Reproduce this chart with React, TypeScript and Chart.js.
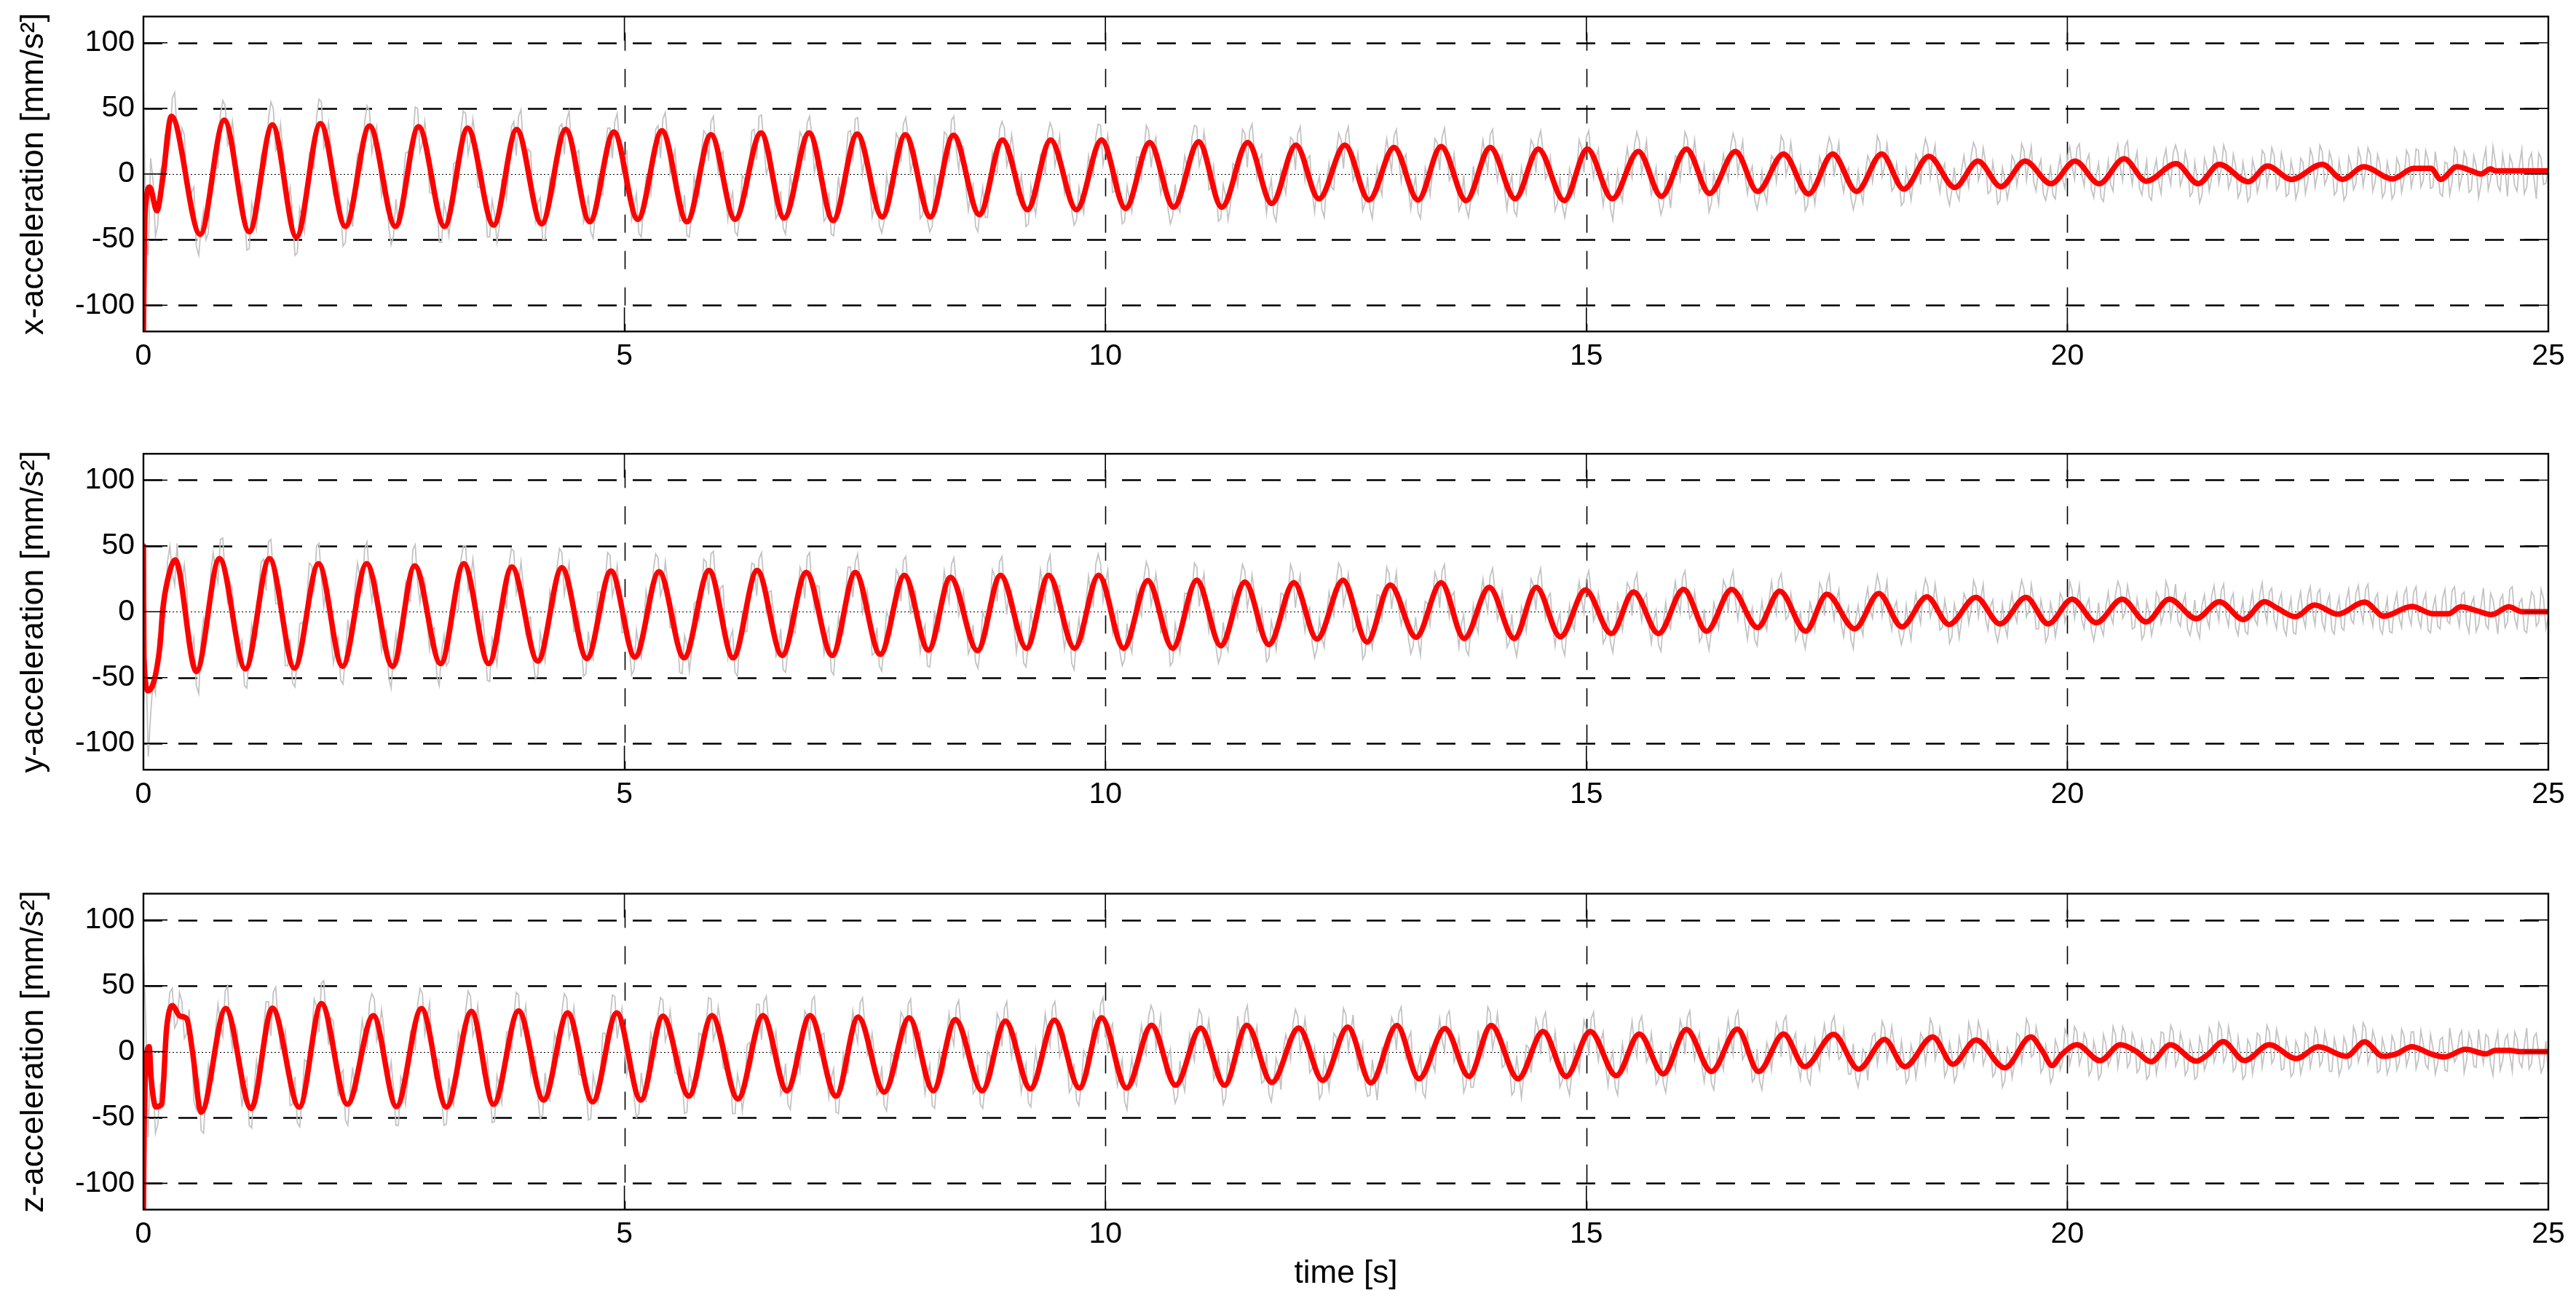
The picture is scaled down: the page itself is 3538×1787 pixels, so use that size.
import React, { useEffect, useRef } from 'react';
import { Chart, registerables } from 'chart.js';

Chart.register(...registerables);

// ---------- data ----------
const X_TICKS = [0, 5, 10, 15, 20, 25];
const Y_TICKS = [-100, -50, 0, 50, 100];
const Y_DASHED = [-100, -50, 50, 100];
const X_GRID = [5, 10, 15, 20];
const Y_LABELS = ['x-acceleration [mm/s²]', 'y-acceleration [mm/s²]', 'z-acceleration [mm/s²]'];
const X_LABEL = 'time [s]';
const GRAY_DT = 0.05; // raw samples at k*GRAY_DT, in-between samples at k*GRAY_DT + GRAY_DT/2

// filtered (red) signals: times [s] and values [mm/s^2]
const X_RED_T = [0, 0.01, 0.03, 0.065, 0.14, 0.2, 0.29, 0.59, 0.84, 1.10, 1.34, 1.59, 1.84, 2.10, 2.35, 2.62, 2.86, 3.13, 3.37, 3.64, 3.88, 4.14, 4.39, 4.64, 4.89, 5.14,
  5.39, 5.65, 5.90, 6.15, 6.42, 6.66, 6.92, 7.17, 7.42, 7.68, 7.92, 8.18, 8.42, 8.69, 8.93, 9.19, 9.43, 9.70, 9.96, 10.21, 10.46, 10.71, 10.97, 11.21, 11.48, 11.73, 11.98,
  12.22, 12.49, 12.74, 13.0, 13.25, 13.49, 13.75, 14.0, 14.26, 14.50, 14.77, 15.01, 15.27, 15.54, 15.78, 16.04, 16.28, 16.55, 16.78, 17.05, 17.31, 17.56, 17.81, 18.07, 18.30, 18.56, 18.83,
  19.07, 19.31, 19.56, 19.83, 20.08, 20.33, 20.59, 20.82, 21.13, 21.36, 21.58, 21.88, 22.08, 22.33, 22.65, 22.86, 23.08, 23.38, 23.6, 23.78, 23.88, 24.05, 24.2, 24.3, 24.4, 24.45, 25];
const X_RED_V = [-120, -50, -19, -10, -28, -4, 44, -46, 41, -44, 37.5, -48, 38.4, -40, 36.6, -40, 36, -40, 35, -39, 34, -38, 34, -36.4, 32, -34.6,
  33, -36.4, 30, -34.6, 31.4, -33.6, 31.4, -35.5, 30.5, -32.7, 30, -32.7, 29.6, -30.9, 25.9, -27.2, 25.9, -27.2, 25.9, -26.2, 24, -25.3, 24.6, -25.3, 24, -22.5, 22,
  -18.9, 22, -19.8, 20.3, -19.8, 20.9, -20.3, 20.3, -18.9, 19, -20.3, 19, -18.9, 17.2, -17, 19, -14.8, 17.2, -13.3, 15.3, -15.2, 15.3, -13.3, 15.3, -11.5, 13.5, -10.2,
  9.8, -9.6, 9.8, -7.4, 9.8, -7.4, 11.6, -5.5, 7.9, -7.4, 7.4, -5.9, 6.1, -4.1, 7.4, -4.1, 5.5, -3.7, 4.3, 4.3, -4.1, 5.5, 2.4, 0, 3.9, 2.4, 2.4];

const Y_RED_T = [0, 0.005, 0.05, 0.17, 0.2, 0.25, 0.33, 0.55, 0.79, 1.06, 1.31, 1.57, 1.82, 2.07, 2.32, 2.59, 2.82, 3.09, 3.33, 3.59, 3.83, 4.10, 4.35, 4.61, 4.86, 5.11,
  5.36, 5.62, 5.88, 6.13, 6.38, 6.64, 6.89, 7.16, 7.40, 7.66, 7.91, 8.16, 8.39, 8.67, 8.91, 9.18, 9.41, 9.68, 9.93, 10.19, 10.44, 10.70, 10.95, 11.20, 11.45, 11.70, 11.96,
  12.20, 12.47, 12.72, 12.96, 13.23, 13.49, 13.73, 13.99, 14.25, 14.48, 14.73, 14.99, 15.26, 15.49, 15.75, 16.01, 16.25, 16.51, 16.78, 17.01, 17.28, 17.50, 17.79, 18.04, 18.28, 18.54, 18.77,
  19.05, 19.30, 19.57, 19.80, 20.05, 20.30, 20.57, 20.82, 21.06, 21.34, 21.58, 21.83, 22.05, 22.18, 22.37, 22.57, 22.81, 23.09, 23.29, 23.58, 23.8, 23.96, 24.09, 24.25, 24.41, 24.59, 24.73, 25];
const Y_RED_V = [50, -35, -60, -27, 1, 23.7, 39.4, -45.4, 40.4, -43.4, 40.4, -42.8, 36.5, -41.4, 36.5, -41.4, 34.9, -39.4, 36.5, -39.4, 34.1, -37.5, 33.5, -35.5, 31, -34.5,
  30.4, -35, 31.4, -35, 31.4, -33.2, 29.9, -33.2, 29.9, -32.3, 27.7, -29.2, 26.2, -29.5, 27.7, -27.7, 27.7, -27.7, 27.7, -27.7, 23.6, -27.7, 24, -25.8, 22.5, -24.9, 22.1,
  -20.7, 24, -23, 20.3, -19.4, 22.1, -20.3, 18.5, -20.3, 18.5, -19, 16.6, -16.6, 15.1, -16.6, 17, -14.8, 17, -12, 15.7, -14.8, 13.3, -12.9, 13.8, -11.4, 11.4, -9.6,
  11, -9.2, 11, -9.2, 9.6, -8.3, 9.6, -7.7, 9.6, -5.2, 7.7, -5.9, 7.7, 2.8, -3.7, 5.2, -1.8, 7.4, -3.3, 4.1, -1.5, -1.5, 3.7, 0.9, -2.2, 3.7, 0, 0];

const Z_RED_T = [0, 0.01, 0.06, 0.08, 0.13, 0.19, 0.24, 0.30, 0.38, 0.45, 0.51, 0.60, 0.855, 1.12, 1.34, 1.62, 1.85, 2.12, 2.39, 2.63, 2.89, 3.15, 3.41, 3.64, 3.90, 4.16, 4.41, 4.67, 4.92, 5.17,
  5.40, 5.67, 5.91, 6.18, 6.44, 6.69, 6.93, 7.20, 7.43, 7.70, 7.96, 8.21, 8.44, 8.72, 8.96, 9.22, 9.47, 9.73, 9.96, 10.22, 10.48, 10.73, 10.99, 11.24, 11.47, 11.73, 12.01,
  12.26, 12.52, 12.76, 13.03, 13.26, 13.53, 13.78, 14.01, 14.29, 14.55, 14.79, 15.04, 15.31, 15.55, 15.80, 16.04, 16.30, 16.57, 16.79, 17.05, 17.27, 17.57, 17.83, 18.10, 18.31, 18.60, 18.81,
  19.05, 19.35, 19.62, 19.74, 19.84, 19.94, 20.1, 20.34, 20.55, 20.71, 20.87, 21.07, 21.34, 21.46, 21.62, 21.84, 22.10, 22.38, 22.61, 22.9, 23.09, 23.28, 23.42, 23.58, 23.78, 23.92, 24.14, 24.35, 24.45, 24.6, 24.7, 25];
const Z_RED_V = [-120, -40, 3.8, -20, -42, -40, 17, 35, 27, 25, 0, -46, 32.7, -43.2, 33.1, -42.1, 36.5, -40, 27.4, -41.7, 32.7, -42.1, 30.6, -40, 31, -36.8, 29.5, -38.2, 29.5, -36.8,
  27, -33.8, 27.4, -35.9, 27.4, -29.7, 27.4, -33.8, 26.3, -30.7, 25.7, -29.7, 24.3, -29.7, 23.2, -28.2, 23.9, -27.6, 25.7, -27.6, 20.1, -25.5, 18, -25.5, 20.1, -23.4, 18,
  -21.9, 18.6, -23.8, 19.9, -20.6, 17.5, -18.8, 19.9, -20.6, 15.3, -18.8, 15.3, -18.2, 13.4, -16.9, 16.8, -15.1, 17.1, -15.1, 13.4, -11.4, 13.1, -13.3, 9.2, -11.4, 11.2, -9.6,
  8.8, -12.3, 11.2, 0.5, -10.5, -2.2, 5.2, -6.8, 5.2, 0.5, -7.7, 5.2, -7.2, -2.2, 7.6, -6.8, 5.2, -5.3, 3.7, -3.5, 7.4, -3.5, -1.7, 3.7, -1.7, -4, 1.8, -1.7, 0.9, 0.9, 0, 0];

// raw (gray) signals, samples at k*GRAY_DT
const X_GRAY = [70, -62, -5, -38, 8, 35,
  58, 31, 35, -9, -14, -55, -40, -50, -5, 4, 45,
  52, 26, 22, -20, -28, -57, -31, -20, 19, 42,
  50, 22, 18, -22, -30, -60, -33, -21, 18, 44,
  55, 25, 20, -18, -25, -52, -26, -4, 6, 40,
  48, 27, 4, -6, -40, -47, -38, -7, 17, 24,
  50, 24, 22, -15, -20, -52, -31, -30, 9, 33,
  46, 25, 27, -10, -14, -48, -30, -40, -3, 4, 40,
  44, 20, 19, -18, -22, -50, -24, -16, 20, 38,
  41, 21, 16, -14, -31, -44, -28, -15, 17, 35,
  40, 22, 12, -16, -26, -45, -24, -6, 8, 37,
  42, 26, 7, -3, -35, -47, -30, -11, 16, 30,
  40, 18, 15, -16, -22, -44, -31, -4, 5, 34,
  44, 23, 6, -13, -30, -41, -25, -14, 15, 28,
  39, 28, 12, -9, -33, -46, -27, -18, 9, 33,
  42, 20, 14, -8, -24, -39, -36, -12, 2, 27,
  38, 27, 10, -4, -31, -35, -40, -15, 4, 30,
  41, 19, 22, -11, -14, -40, -24, -33, -1, 3, 34,
  35, 14, 16, -16, -15, -38, -20, -15, 14, 30,
  34, 16, 3, -2, -28, -35, -21, -4, 2, 28,
  37, 18, 13, -13, -17, -36, -19, -12, 13, 17,
  33, 21, 2, -6, -26, -32, -25, -2, 5, 28,
  36, 14, 19, -10, -10, -34, -17, -24, 6, 8, 31,
  33, 17, 11, -12, -14, -31, -17, -5, 3, 26,
  31, 10, 12, -14, -9, -27, -6, -10, 16, 26,
  30, 13, 1, -3, -22, -26, -14, -8, 13, 14,
  29, 12, 10, -11, -12, -29, -14, -2, 1, 24,
  28, 18, -1, -2, -23, -26, -19, -9, 12, 13,
  30, 11, 9, -12, -10, -28, -12, -7, 9, 22,
  26, 17, 0, -4, -22, -24, -22, -4, 2, 20,
  28, 11, 12, -9, -9, -26, -15, -14, 5, 6, 22,
  25, 12, -1, -6, -20, -24, -9, -6, 12, 13,
  27, 9, 8, -10, -8, -22, -10, 1, 4, 21,
  24, 14, -2, 0, -19, -17, -14, -2, 11, 10,
  25, 7, 9, -12, -6, -24, -9, -7, 6, 19,
  22, 13, -4, 1, -18, -19, -13, 0, 9, 8,
  24, 6, 8, -10, -4, -21, -6, -5, 10, 17,
  20, 12, -3, 2, -16, -12, -15, 3, 1, 14,
  19, 2, 9, -13, -3, -20, -5, -9, 10, 4,
  18, 9, -6, 4, -15, -10, -16, 2, -4, 13, 6,
  20, 0, 10, -12, -1, -18, -4, -8, 12, 5,
  21, 4, 8, -11, -3, -17, 2, -6, 11, 1, 16,
  15, -2, 9, -14, -4, -16, 5, -3, 14,
  4, 16, -5, 6, -13, -2, -17, 3, -6, 15,
  2, 14, -8, 7, -15, 1, -12, 9, -5, 13, 0,
  17, -3, 10, -13, -2, -16, 6, -7, 12,
  3, 15, -6, 8, -14, 0, -15, 7, -4, 14,
  -1, 18, -5, 11, -10, 3, -17, 8, -6,
  16, -2, 12, -12, 6, -8, 19, -4, 9, -13, 3, 14, -9, 7, -15, 11, -3, 16, -8, 5];
// raw (gray) samples in between, at k*GRAY_DT + GRAY_DT/2
const X_GRAY_MID = [-45, 12, -48, 2, 30, 22,
  62, 18, 30, -25, -10, -62, -28, -45, 15, 5, 56,
  22, 40, -15, -8, -58, -22, -42, 14, 6, 55,
  18, 38, -18, -10, -62, -26, -44, 16, 4, 57,
  20, 39, -16, -6, -55, -20, -40, 15, 3, 52,
  16, 36, -17, -5, -54, -19, -39, 16, 2, 51,
  17, 40, -14, -3, -52, -22, -47, 8, -4, 48,
  15, 42, -10, 3, -48, -20, -52, -4, -18, 36, 14,
  49, 4, 17, -36, -18, -50, -4, -14, 36, 15,
  48, 3, 18, -37, -16, -49, -3, -16, 35, 12,
  46, 2, 17, -35, -15, -48, -2, -15, 34, 12,
  47, 0, 18, -36, -16, -48, -2, -17, 33, 10,
  44, 1, 17, -35, -14, -47, -1, -16, 33, 11,
  45, 0, 16, -34, -13, -46, -1, -15, 32, 10,
  44, 1, 14, -36, -14, -47, -2, -16, 32, 10,
  43, 0, 15, -33, -12, -45, -1, -14, 31, 9,
  43, 1, 16, -34, -12, -44, 0, -15, 32, 9,
  44, 3, 21, -28, -8, -44, -10, -33, 16, 1, 40,
  6, 30, -16, -1, -40, -9, -31, 15, -1, 39,
  6, 29, -15, 0, -39, -10, -30, 14, -2, 38,
  7, 30, -14, 1, -38, -9, -29, 13, -3, 37,
  5, 28, -15, 2, -38, -8, -29, 14, -3, 37,
  6, 32, -12, 6, -36, -8, -35, 8, -9, 34, 5,
  38, -3, 15, -30, -4, -36, 3, -15, 28, 3,
  36, -5, 14, -29, -2, -33, 8, -12, 31, 4,
  36, -5, 16, -28, -2, -34, 5, -16, 27, 2,
  34, -6, 15, -27, -2, -34, 5, -16, 27, 3,
  35, -5, 15, -28, -1, -33, 6, -15, 26, 2,
  34, -5, 14, -27, -1, -32, 5, -15, 26, 1,
  33, -4, 13, -28, -2, -33, 4, -16, 26, 1,
  33, -3, 19, -24, 0, -35, 2, -21, 20, -3, 32,
  0, 25, -16, 5, -31, 0, -26, 14, -4, 32,
  1, 26, -14, 7, -29, 1, -23, 15, -5, 31,
  0, 25, -15, 6, -27, 2, -22, 14, -6, 29,
  -1, 24, -15, 6, -28, 1, -23, 13, -7, 28,
  -2, 24, -14, 5, -27, 2, -22, 14, -6, 29,
  -2, 23, -13, 8, -24, 4, -20, 15, -8, 27,
  -3, 22, -14, 8, -24, 5, -20, 14, -10, 24,
  -5, 20, -15, 9, -23, 5, -19, 14, -9, 23,
  -5, 21, -13, 11, -20, 7, -19, 13, -11, 21, -4,
  23, -9, 15, -18, 8, -21, 10, -13, 22, -5,
  25, -8, 17, -16, 10, -20, 11, -15, 19, -8, 22,
  -9, 17, -17, 9, -22, 12, -13, 20, -7,
  22, -11, 15, -18, 9, -21, 11, -14, 18, -9,
  20, -12, 16, -17, 10, -19, 12, -15, 19, -10, 22,
  -8, 17, -16, 10, -20, 13, -12, 19, -9,
  20, -13, 15, -18, 9, -19, 12, -14, 18, -10,
  19, -10, 18, -11, 17, -15, 9, -16, 20,
  -11, 17, -14, 14, -18, 10, -12, 21, -9, 15, -17, 8, -13, 19, -10, 16, -19, 12, -7];

const Y_GRAY = [-74, -110, -52, -20, 10, 38, 30,
  52, 22, 18, -30, -56, -22, -14, 30, 31,
  55, 26, 23, -19, -27, -56, -30, -24, 19, 40,
  53, 30, 6, -5, -41, -54, -35, -8, 12, 35,
  50, 26, 19, -20, -28, -52, -34, -22, 18, 27,
  48, 24, 27, -12, -18, -50, -32, -38, 2, 10,
  47, 22, 26, -9, -14, -49, -30, -41, -3, 2, 39,
  50, 23, 22, -16, -21, -53, -26, -20, 17, 35,
  46, 22, 19, -5, -36, -48, -27, -14, 8, 34,
  45, 25, 8, -14, -22, -47, -30, -7, 15, 22,
  43, 20, 14, -15, -25, -44, -26, -13, 4, 31,
  41, 19, 22, -12, -17, -47, -25, -29, 8, 10, 38,
  44, 20, 18, -15, -20, -46, -21, -15, 20, 36,
  40, 23, 15, -1, -30, -44, -29, -14, 9, 29,
  42, 18, 20, -13, -18, -45, -22, -19, 16, 34,
  38, 23, 7, 0, -31, -41, -25, -5, 4, 28,
  39, 17, 16, -12, -17, -41, -22, -15, 12, 18,
  36, 21, 4, -3, -27, -38, -27, -6, 5, 27,
  38, 16, 17, -11, -16, -39, -22, -14, 12, 19,
  37, 17, 19, -13, -14, -39, -20, -23, 9, 11, 36,
  36, 20, 5, -2, -30, -36, -23, -3, 4, 25,
  32, 15, 14, -14, -16, -38, -20, -13, 14, 15,
  34, 19, 2, -2, -27, -33, -24, -4, 3, 23,
  31, 13, 13, -12, -15, -35, -16, -12, 13, 14,
  30, 18, 0, -1, -24, -28, -20, -3, 5, 22,
  33, 14, 13, -12, -12, -32, -17, -10, 12, 12,
  29, 17, 2, 1, -20, -26, -21, -8, 6, 8, 24,
  31, 10, 12, -10, -10, -29, -12, -9, 11, 10,
  27, 16, 0, 0, -23, -25, -20, -3, 3, 20,
  26, 9, 11, -11, -9, -27, -12, -8, 9, 9,
  25, 14, -1, 1, -20, -23, -16, -2, 2, 18,
  23, 7, 10, -11, -7, -25, -9, -8, 10, 8,
  26, 12, -2, 2, -19, -20, -14, -1, 3, 19,
  24, 8, 9, -9, -5, -21, -7, -7, 9, 8,
  24, 13, -3, 3, -17, -20, -14, 0, 2, 17,
  21, 6, 9, -10, -3, -21, -6, -10, 8, 1, 16,
  20, 11, -4, 3, -16, -17, -10, 0, 1, 15,
  19, 3, 8, -12, -2, -19, -3, -7, 9, 2,
  18, 10, -5, 4, -15, -13, -11, 3, -1, 14,
  17, 1, 9, -13, -1, -18, -2, -8, 10, 0,
  16, 8, -6, 5, -14, -11, -12, 4, -3, 13,
  18, -1, 10, -12, 0, -17, -1, -9, 11, -2,
  17, 6, -7, 6, -13, -8, -14, 5, -5, 12, 3,
  16, -3, 9, -12, -2, -15, 4, -6, 13,
  2, 15, -6, 8, -13, 0, -16, 6, -4, 12,
  0, 14, -8, 7, -14, 2, -12, 9, -6, 14, 1,
  17, -2, 10, -13, -1, -15, 6, -5, 13, -3,
  15, -6, 8, -14, 3, -11, 10, -7, 16, -1,
  13, -9, 6, -15, 4, -10, 14, -3, 9, -12, 17, -5, 7, -14, 2, 12, -8, 10, -4];
const Y_GRAY_MID = [-28, -78, -62, -35, -5, 50, 20,
  20, 36, -22, -20, -62, -5, -8, 45, 22,
  56, 8, 17, -40, -22, -58, -10, -20, 38, 16,
  55, 6, 18, -41, -21, -57, -9, -21, 37, 15,
  52, 4, 17, -39, -20, -55, -6, -19, 37, 14,
  53, 8, 24, -30, -14, -58, -17, -32, 22, 8,
  51, 7, 25, -29, -12, -56, -18, -38, 14, 1, 50,
  16, 40, -13, -2, -52, -20, -40, 14, 2, 48,
  14, 38, -16, -4, -51, -16, -38, 16, 3, 48,
  13, 37, -15, -3, -49, -15, -36, 15, 0, 45,
  12, 35, -16, -2, -48, -14, -35, 16, -1, 44,
  12, 38, -12, 1, -46, -18, -45, 6, -7, 40, 13,
  46, 2, 20, -35, -14, -49, -2, -15, 37, 12,
  45, 0, 16, -34, -13, -46, -1, -16, 34, 10,
  45, 2, 19, -32, -12, -48, -4, -17, 34, 11,
  44, -1, 16, -33, -12, -45, 0, -16, 32, 8,
  42, -2, 16, -31, -10, -42, 1, -15, 31, 7,
  41, -3, 15, -32, -10, -43, 0, -16, 32, 8,
  42, -2, 16, -31, -8, -42, 1, -15, 32, 8,
  43, 1, 20, -28, -8, -44, -5, -23, 27, 5, 44,
  8, 32, -16, 1, -41, -9, -31, 15, -3, 38,
  5, 29, -16, 0, -41, -9, -31, 14, -3, 37,
  4, 29, -15, 1, -39, -8, -30, 14, -4, 36,
  3, 28, -15, 2, -38, -7, -29, 14, -4, 36,
  3, 28, -15, 3, -35, -5, -27, 15, -3, 37,
  5, 29, -15, 2, -36, -5, -28, 13, -5, 34,
  2, 30, -10, 8, -32, -4, -33, 8, -10, 30, 3,
  36, -4, 15, -27, -2, -33, 5, -16, 25, 0,
  33, -6, 15, -27, -2, -34, 4, -15, 25, 1,
  33, -5, 14, -26, -1, -33, 5, -14, 23, -1,
  31, -7, 14, -24, 0, -31, 6, -14, 22, -3,
  29, -7, 14, -24, 1, -30, 7, -13, 23, -1,
  31, -5, 15, -23, 2, -29, 7, -13, 24, -1,
  31, -6, 15, -21, 3, -26, 8, -14, 23, -2,
  29, -6, 14, -22, 1, -28, 7, -14, 22, -3,
  28, -6, 17, -19, 4, -28, 5, -18, 18, -5, 28,
  -3, 23, -14, 8, -25, 5, -21, 14, -9, 25,
  -4, 21, -14, 9, -24, 6, -20, 14, -9, 24,
  -4, 21, -14, 9, -23, 6, -19, 14, -8, 24,
  -4, 21, -13, 9, -23, 7, -19, 14, -8, 23,
  -5, 20, -13, 10, -22, 7, -18, 15, -9, 23,
  -5, 20, -13, 10, -21, 8, -18, 15, -9, 23,
  -6, 21, -11, 13, -18, 9, -20, 13, -12, 20, -7,
  21, -11, 14, -18, 9, -17, 15, -10, 22,
  -8, 18, -13, 14, -18, 10, -17, 15, -12, 19,
  -10, 17, -14, 13, -17, 11, -14, 17, -9, 20, -8,
  21, -11, 14, -17, 10, -16, 14, -12, 18, -10,
  19, -12, 14, -16, 11, -13, 17, -9, 19, -11,
  15, -16, 11, -10, 18, -13, 9, -17, 13, -8, 19, -12, 10, -16, 15, -11, 17, -13];

const Z_GRAY = [76, -65, -22, -55, -20, 28,
  48, 22, 38, 14, 6, -44, -60, -30, -24, 17, 22,
  46, 18, 20, -20, -25, -56, -28, -22, 18, 38,
  45, 22, 5, -4, -40, -54, -34, -8, 13, 34,
  52, 23, 26, -14, -17, -52, -30, -32, 7, 8, 37,
  40, 15, 17, -22, -28, -56, -24, -20, 18, 35,
  44, 25, 4, -6, -37, -55, -36, -7, 8, 31,
  42, 18, 17, -19, -27, -53, -26, -18, 15, 25,
  43, 24, 6, -4, -35, -48, -33, -6, 6, 30,
  41, 17, 15, -18, -26, -51, -27, -19, 14, 23,
  42, 23, 5, -5, -34, -47, -32, -7, 5, 28,
  39, 15, 14, -17, -22, -46, -24, -17, 13, 21,
  40, 16, 21, -14, -16, -47, -26, -31, 7, 7, 36,
  38, 21, 3, -3, -28, -40, -24, -3, 5, 27,
  39, 14, 13, -16, -20, -46, -23, -16, 13, 17,
  37, 20, 2, -3, -30, -41, -26, -4, 4, 26,
  36, 14, 12, -14, -19, -41, -20, -15, 12, 14,
  34, 19, 2, -3, -29, -40, -26, -3, 3, 24,
  33, 13, 12, -13, -18, -39, -19, -14, 12, 13,
  34, 18, 3, -2, -27, -37, -25, -4, 5, 23,
  36, 15, 16, -13, -16, -38, -20, -22, 6, 5, 27,
  30, 14, -1, -4, -26, -34, -22, -5, 2, 20,
  28, 9, 8, -15, -20, -35, -13, -8, 12,
  29, 16, 8, -4, -22, -32, -24, -12, 2, 6, 21,
  27, 10, 9, -13, -14, -32, -15, -9, 11, 10,
  28, 14, 2, -4, -25, -33, -21, -14, 3, 5, 21,
  29, 9, 10, -13, -12, -31, -14, -8, 10, 9,
  27, 13, -1, -5, -25, -27, -14, 2, 7,
  30, 12, 12, -10, -11, -30, -18, -17, 3, 2, 18,
  24, 11, -2, -3, -22, -26, -15, -3, 4, 17,
  25, 7, 8, -11, -8, -27, -11, -8, 9, 6,
  22, 12, -3, -2, -21, -24, -15, -1, 3, 17,
  26, 8, 7, -11, -7, -24, -10, -6, 10, 10,
  26, 12, -2, -1, -20, -22, -13, 0, 4, 16,
  23, 5, 8, -10, -4, -20, -6, -6, 9, 6,
  22, 11, -3, 2, -17, -20, -16, -2, 1, 14, 3,
  18, 4, 6, -13, -6, -20, -3, -7, 10, 5,
  20, 2, 8, -14, -3, -18, 2, -5, 14,
  3, 16, -4, 5, -16, -5, -22, -3, -9, 12, 4,
  20, -2, 10, -12, -4, -19, 3, -8, 12, -1,
  15, -3, 9, -14, -1, -17, 6, -6, 13,
  1, 14, -8, 8, -13, -2, -18, 5, -7, 14,
  2, 15, -6, 7, -14, 0, -19, 4, -8, 13, -1,
  17, -3, 9, -12, -3, -18, 5, -6, 12, 0,
  15, -5, 8, -13, 2, -16, 3, -9, 11, -2,
  13, -7, 6, -15, 1, -12, 5, -10, 13, -1,
  18, -2, 9, -14, 2, -11, 7, -8, 12, -4,
  15, -6, 6, -13, 3, -9, 11, -15, 5, -4, 16, -7, 8, -12, 1, 13, -10, 6, -14, 9, -3, 15, -8, 4, -13, 11, -2, -11, -18];
const Z_GRAY_MID = [20, 5, -62, -25, -15, 45,
  18, 45, 10, 32, -38, -20, -62, -10, -22, 36, 12,
  50, 2, 16, -42, -20, -58, -7, -20, 38, 12,
  49, 2, 16, -41, -19, -57, -6, -19, 40, 15,
  54, 5, 23, -34, -14, -56, -12, -29, 24, 3, 44,
  8, 32, -19, -8, -56, -19, -40, 15, 1, 48,
  13, 37, -18, -6, -56, -20, -41, 15, 0, 46,
  12, 35, -17, -5, -54, -18, -39, 15, -1, 45,
  11, 35, -17, -4, -51, -16, -37, 14, -2, 44,
  10, 34, -17, -5, -52, -17, -38, 14, -2, 43,
  10, 33, -17, -4, -50, -16, -37, 14, -3, 41,
  8, 31, -16, -2, -47, -14, -34, 14, -3, 41,
  9, 34, -12, 0, -47, -17, -45, 5, -9, 36, 9,
  42, -2, 15, -33, -9, -44, -1, -15, 31, 8,
  42, -2, 14, -35, -13, -47, -2, -16, 31, 7,
  41, -3, 14, -33, -11, -45, -1, -16, 30, 6,
  40, -3, 15, -32, -10, -43, 0, -16, 29, 5,
  39, -4, 14, -32, -10, -43, 0, -16, 29, 4,
  38, -4, 14, -31, -9, -42, 1, -16, 29, 4,
  38, -4, 14, -31, -9, -41, 1, -16, 30, 6,
  41, 1, 21, -26, -6, -44, -5, -26, 20, -2, 35,
  2, 27, -16, 2, -39, -7, -30, 13, -7, 32,
  1, 24, -21, -4, -40, -1, -18, 27, 2,
  35, -3, 19, -24, -1, -38, -5, -29, 13, -6, 32,
  0, 25, -16, 3, -36, -4, -29, 14, -5, 33,
  1, 28, -13, 6, -34, -6, -37, 3, -17, 26, 1,
  34, -5, 15, -28, -3, -35, 3, -15, 25, 0,
  31, -8, 11, -31, 0, -27, 16, -4, 34,
  2, 29, -12, 8, -33, -3, -35, 5, -16, 25, -2,
  30, -7, 15, -27, -1, -33, 5, -15, 24, -3,
  30, -7, 15, -26, 0, -33, 6, -15, 23, -4,
  27, -8, 14, -25, 1, -31, 6, -14, 24, -2,
  31, -6, 14, -23, 2, -29, 8, -14, 24, -2,
  31, -6, 14, -23, 2, -29, 7, -14, 22, -4,
  27, -8, 14, -21, 4, -25, 9, -14, 21, -4,
  27, -6, 17, -17, 6, -27, 2, -22, 12, -10, 23,
  -7, 19, -14, 8, -24, 5, -20, 14, -9, 25,
  -6, 18, -19, 7, -23, 11, -12, 22, -6,
  23, -10, 15, -19, 6, -27, 3, -20, 14, -8, 25,
  -4, 19, -16, 5, -24, 9, -14, 17, -10, 19,
  -10, 14, -18, 8, -21, 13, -11, 19, -12,
  19, -12, 14, -16, 8, -21, 9, -17, 15, -10,
  20, -11, 14, -18, 8, -21, 11, -14, 18, -8, 22,
  -8, 19, -15, 11, -21, 9, -17, 14, -12, 20,
  -9, 17, -14, 10, -19, 8, -17, 14, -12, 18,
  -11, 15, -15, 10, -18, 11, -13, 19, -8, 22,
  -9, 16, -16, 10, -17, 12, -14, 17, -11, 15,
  -13, 16, -10, 13, -17, 9, -14, 18, -8, 12, -16, 14, -11, 17, -9, 11, -18, 15, -7, 13, -15, 10, -12, 18, -9, 14, -16, 8];

// ---------- layout / style ----------
const W = 3538;
const AREA_LEFT = 197;
const AREA_RIGHT = 3500;
const FONT = "'Liberation Sans', Arial, Helvetica, sans-serif";

const PANELS = [
  { label: Y_LABELS[0], redT: X_RED_T, redV: X_RED_V, gray: X_GRAY, grayMid: X_GRAY_MID, areaTop: 22.7, areaBottom: 455.3, canvasBottom: 540, xTitle: '' },
  { label: Y_LABELS[1], redT: Y_RED_T, redV: Y_RED_V, gray: Y_GRAY, grayMid: Y_GRAY_MID, areaTop: 623.3, areaBottom: 1057.3, canvasBottom: 1140, xTitle: '' },
  { label: Y_LABELS[2], redT: Z_RED_T, redV: Z_RED_V, gray: Z_GRAY, grayMid: Z_GRAY_MID, areaTop: 1227.5, areaBottom: 1661.5, canvasBottom: 1787, xTitle: X_LABEL },
];

const framePlugin = {
  id: 'matlabFrame',
  beforeDatasetsDraw(chart: any) {
    const { ctx, chartArea: a, scales } = chart;
    const x = scales.x, y = scales.y;
    ctx.save();
    ctx.beginPath();
    ctx.rect(a.left, a.top, a.right - a.left, a.bottom - a.top);
    ctx.clip();
    ctx.strokeStyle = '#000';
    ctx.lineWidth = 2.6;
    ctx.setLineDash([26, 22]);
    ctx.lineDashOffset = 0;
    for (const v of Y_DASHED) {
      const py = Math.round(y.getPixelForValue(v)) + 0.5;
      ctx.beginPath();
      ctx.moveTo(a.left, py);
      ctx.lineTo(a.right, py);
      ctx.stroke();
    }
    ctx.lineWidth = 1.6;
    ctx.setLineDash([25, 25]);
    ctx.lineDashOffset = 28;
    for (const v of X_GRID) {
      const px = Math.round(x.getPixelForValue(v)) + 0.5;
      ctx.beginPath();
      ctx.moveTo(px, a.top);
      ctx.lineTo(px, a.bottom);
      ctx.stroke();
    }
    ctx.lineWidth = 1.2;
    ctx.setLineDash([2, 3]);
    ctx.lineDashOffset = 0;
    const p0 = Math.round(y.getPixelForValue(0)) + 0.5;
    ctx.beginPath();
    ctx.moveTo(a.left, p0);
    ctx.lineTo(a.right, p0);
    ctx.stroke();
    ctx.restore();
  },
  afterDatasetsDraw(chart: any) {
    const { ctx, chartArea: a, scales } = chart;
    const x = scales.x, y = scales.y;
    ctx.save();
    ctx.strokeStyle = '#000';
    ctx.setLineDash([]);
    ctx.lineWidth = 1.6;
    const tl = 33;
    for (const v of X_TICKS) {
      const px = x.getPixelForValue(v);
      ctx.beginPath();
      ctx.moveTo(px, a.bottom); ctx.lineTo(px, a.bottom - tl);
      ctx.moveTo(px, a.top); ctx.lineTo(px, a.top + tl);
      ctx.stroke();
    }
    for (const v of Y_TICKS) {
      const py = y.getPixelForValue(v);
      ctx.beginPath();
      ctx.moveTo(a.left, py); ctx.lineTo(a.left + tl, py);
      ctx.moveTo(a.right, py); ctx.lineTo(a.right - tl, py);
      ctx.stroke();
    }
    ctx.lineWidth = 2.4;
    ctx.strokeRect(a.left, a.top, a.right - a.left, a.bottom - a.top);
    ctx.restore();
  },
};

function Panel({ cfg }: { cfg: typeof PANELS[number] }) {
  const ref = useRef<HTMLCanvasElement | null>(null);
  const canvasTop = Math.floor(cfg.areaTop - 40);
  const height = cfg.canvasBottom - canvasTop;
  const padTop = cfg.areaTop - canvasTop;
  const xAxisH = cfg.canvasBottom - cfg.areaBottom;

  useEffect(() => {
    if (!ref.current) return;
    const redData = cfg.redT.map((t, i) => ({ x: t, y: cfg.redV[i] }));
    const grayData: { x: number; y: number }[] = [];
    cfg.gray.forEach((v, i) => {
      grayData.push({ x: i * GRAY_DT, y: v });
      if (i < cfg.grayMid.length) grayData.push({ x: i * GRAY_DT + GRAY_DT / 2, y: cfg.grayMid[i] });
    });
    const chart = new Chart(ref.current, {
      type: 'line',
      data: {
        datasets: [
          {
            data: redData,
            borderColor: '#ff0000',
            borderWidth: 7.5,
            pointRadius: 0,
            fill: false,
            cubicInterpolationMode: 'monotone',
            borderJoinStyle: 'round',
            borderCapStyle: 'round',
          } as any,
          {
            data: grayData,
            borderColor: '#c3c3c3',
            borderWidth: 1.8,
            pointRadius: 0,
            fill: false,
            tension: 0,
          } as any,
        ],
      },
      options: {
        responsive: false,
        animation: false,
        events: [],
        layout: { padding: { top: padTop, left: 0, right: W - AREA_RIGHT, bottom: 0 } },
        plugins: { legend: { display: false }, tooltip: { enabled: false }, title: { display: false } },
        scales: {
          x: {
            type: 'linear',
            min: 0,
            max: 25,
            afterBuildTicks: (s: any) => { s.ticks = X_TICKS.map((v) => ({ value: v })); },
            afterFit: (s: any) => { s.height = xAxisH; },
            grid: { display: false, drawTicks: false, tickLength: 0 },
            border: { display: false },
            ticks: {
              color: '#000',
              font: { family: FONT, size: 41 },
              padding: 10,
              maxRotation: 0,
              autoSkip: false,
              callback: (v: any) => String(v),
            },
            title: {
              display: !!cfg.xTitle,
              text: cfg.xTitle,
              color: '#000',
              font: { family: FONT, size: 44 },
              padding: { top: 0, bottom: 11 },
            },
          },
          y: {
            type: 'linear',
            min: -120,
            max: 120,
            afterBuildTicks: (s: any) => { s.ticks = Y_TICKS.map((v) => ({ value: v })); },
            afterFit: (s: any) => { s.width = AREA_LEFT; },
            grid: { display: false, drawTicks: false, tickLength: 0 },
            border: { display: false },
            ticks: {
              color: '#000',
              font: { family: FONT, size: 41 },
              padding: 12,
              autoSkip: false,
              callback: (v: any) => String(v),
            },
            title: {
              display: true,
              text: cfg.label,
              color: '#000',
              font: { family: FONT, size: 45 },
              padding: { top: 20, bottom: 0 },
            },
          },
        },
      } as any,
      plugins: [framePlugin],
    });
    return () => chart.destroy();
  }, []);

  return (
    <canvas
      ref={ref}
      width={W}
      height={height}
      style={{ position: 'absolute', left: 0, top: canvasTop, width: W, height, display: 'block' }}
    />
  );
}

export default function App() {
  return (
    <div style={{ position: 'fixed', left: 0, top: 0, width: W, height: 1787, background: '#fff', overflow: 'hidden' }}>
      {PANELS.map((p, i) => (
        <Panel key={i} cfg={p} />
      ))}
    </div>
  );
}
